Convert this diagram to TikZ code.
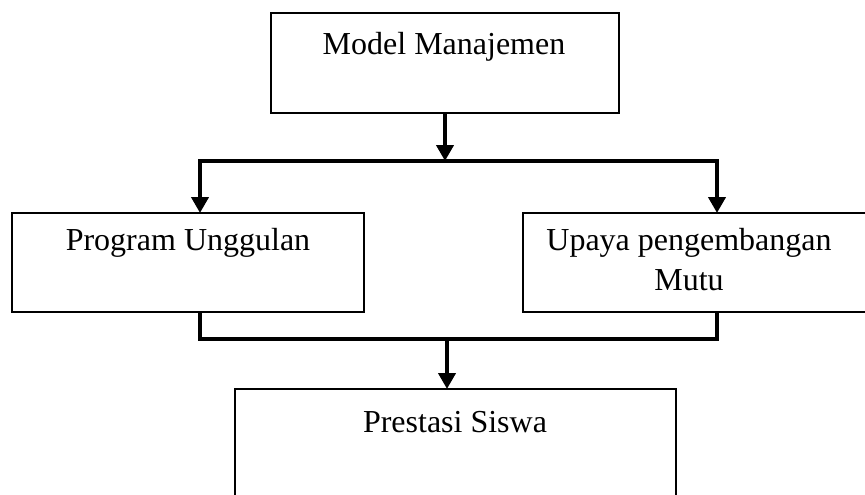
\documentclass[tikz,border=0pt]{standalone}
\usepackage{fontspec}
\setmainfont{Liberation Serif}
\usetikzlibrary{arrows.meta}
\begin{document}
\begin{tikzpicture}[x=1pt,y=-1pt,
  boxstyle/.style={draw, line width=1.5pt, fill=white},
  txt/.style={font=\fontsize{32}{40}\selectfont, inner sep=0pt, align=center},
  conn/.style={line width=4pt},
  arr/.style={line width=4pt, -{Triangle[width=17pt,length=16pt]}}]
\useasboundingbox (0,0) rectangle (865,495);
\clip (0,0) rectangle (865,495);
\fill[white] (0,0) rectangle (865,495);
% boxes
\draw[boxstyle] (271,13) rectangle (619,113);
\draw[boxstyle] (12,213) rectangle (364,312);
\draw[boxstyle] (523,213) rectangle (885,312);
\draw[boxstyle] (235,389) rectangle (676,520);
\coordinate (mmb) at (445,113);
\coordinate (put) at (200,213);
\coordinate (pub) at (200,312);
\coordinate (upt) at (717,213);
\coordinate (upb) at (717,312);
\coordinate (pst) at (447,389);
% texts
\node[txt] (mm) at (444,47) {Model Manajemen};
\node[txt] (pu) at (188,243) {Program Unggulan};
\node[txt] (up) at (689,260) {Upaya pengembangan\\Mutu};
\node[txt] (ps) at (455,422) {Prestasi Siswa};
% connector junctions
\coordinate (jt) at (445,161);
\coordinate (jl) at (200,161);
\coordinate (jr) at (717,161);
\coordinate (bl) at (200,339);
\coordinate (br) at (717,339);
\coordinate (bm) at (447,339);
% connectors
\draw[arr] (mmb) -- (jt);
\draw[conn, line cap=rect] (jl) -- (jr);
\draw[arr] (jl) -- (put);
\draw[arr] (jr) -- (upt);
\draw[conn] (pub) -- (bl) -- (br) -- (upb);
\draw[arr] (bm) -- (pst);
\end{tikzpicture}
\end{document}
